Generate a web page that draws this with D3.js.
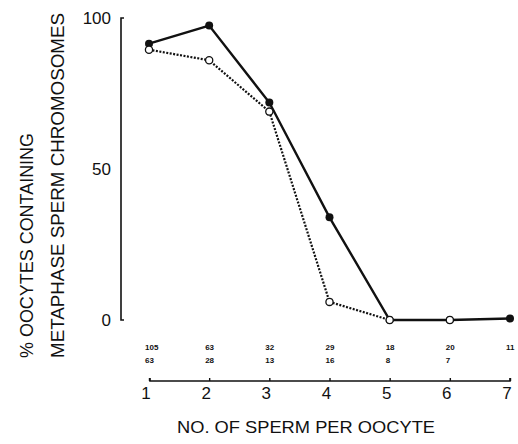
<!DOCTYPE html>
<html><head><meta charset="utf-8">
<script src="https://cdn.jsdelivr.net/npm/d3@7"></script>
<style>body{margin:0;background:#fff}svg{display:block}</style>
</head><body>
<script>
const spermCounts = [1,2,3,4,5,6,7];
const solidValues = [91.5,97.5,72,34,0,0,0.5];
const dashedValues = [89.5,86,69,6,0,0,null];
const topCounts = ["105","63","32","29","18","20","11"];
const bottomCounts = ["63","28","13","16","8","7",""];
const yTicks = [0,50,100];

const W=518,H=444;
const svg=d3.select("body").append("svg").attr("width",W).attr("height",H);
const x=d3.scaleLinear().domain([1,7]).range([149,510]);
const y=d3.scaleLinear().domain([0,100]).range([320,18]);
const font="Liberation Sans, Arial, sans-serif";

// y axis
const yAxis=d3.axisLeft(y).tickValues(yTicks).tickSize(0).tickPadding(10);
const ga=svg.append("g").attr("transform","translate(121,0)").call(yAxis);
ga.select(".domain").attr("stroke","#111").attr("stroke-width",1.6).attr("d","M3,"+y(100)+"H0V"+y(0)+"H3");
ga.selectAll("text").attr("font-family",font).attr("font-size",17).attr("fill","#111");

// x axis
const xAxis=d3.axisTop(x).tickValues(spermCounts).tickSize(3).tickFormat("");
const gx=svg.append("g").attr("transform","translate(0,381)").call(xAxis);
gx.select(".domain").attr("stroke","#111").attr("stroke-width",1.6).attr("d","M"+(x(1)+1)+",-3V0H"+x(7)+"V-3");
gx.selectAll(".tick line").attr("stroke","#111").attr("stroke-width",1.4);
svg.selectAll(".xl").data(spermCounts).enter().append("text")
 .attr("x",d=>x(d)-3).attr("y",399).attr("text-anchor","middle")
 .attr("font-family",font).attr("font-size",17).attr("fill","#111").text(d=>d);

// counts rows
svg.selectAll(".tc").data(spermCounts).enter().append("text")
 .attr("x",d=>x(d)-4).attr("y",350).attr("font-family",font).attr("font-size",8).attr("font-weight","bold").attr("fill","#111")
 .text((d,i)=>topCounts[i]);
svg.selectAll(".bc").data(spermCounts).enter().append("text")
 .attr("x",d=>x(d)-4).attr("y",363).attr("font-family",font).attr("font-size",8).attr("font-weight","bold").attr("fill","#111")
 .text((d,i)=>bottomCounts[i]);

// lines
const solid=spermCounts.map((d,i)=>({x:d,y:solidValues[i]}));
const dashed=spermCounts.map((d,i)=>({x:d,y:dashedValues[i]})).filter(d=>d.y!==null);
const line=d3.line().x(d=>x(d.x)).y(d=>y(d.y));
svg.append("path").datum(dashed).attr("d",line).attr("fill","none").attr("stroke","#111").attr("stroke-width",2.2).attr("stroke-dasharray","2,1.5");
svg.append("path").datum(solid).attr("d",line).attr("fill","none").attr("stroke","#111").attr("stroke-width",2.4);
svg.selectAll(".sd").data(solid).enter().append("circle").attr("cx",d=>x(d.x)).attr("cy",d=>y(d.y)).attr("r",4).attr("fill","#111");
svg.selectAll(".od").data(dashed).enter().append("circle").attr("cx",d=>x(d.x)).attr("cy",d=>y(d.y)).attr("r",3.6).attr("fill","#fff").attr("stroke","#111").attr("stroke-width",1.3);

// titles
svg.append("text").attr("x",177).attr("y",433).attr("textLength",258).attr("lengthAdjust","spacingAndGlyphs")
 .attr("font-family",font).attr("font-size",17).attr("fill","#111").text("NO. OF SPERM PER OOCYTE");
svg.append("text").attr("transform","translate(33,358) rotate(-90)").attr("textLength",225).attr("lengthAdjust","spacingAndGlyphs")
 .attr("font-family",font).attr("font-size",18).attr("fill","#111").text("% OOCYTES CONTAINING");
svg.append("text").attr("transform","translate(64,358) rotate(-90)").attr("textLength",345).attr("lengthAdjust","spacingAndGlyphs")
 .attr("font-family",font).attr("font-size",18).attr("fill","#111").text("METAPHASE SPERM CHROMOSOMES");
</script>
</body></html>
